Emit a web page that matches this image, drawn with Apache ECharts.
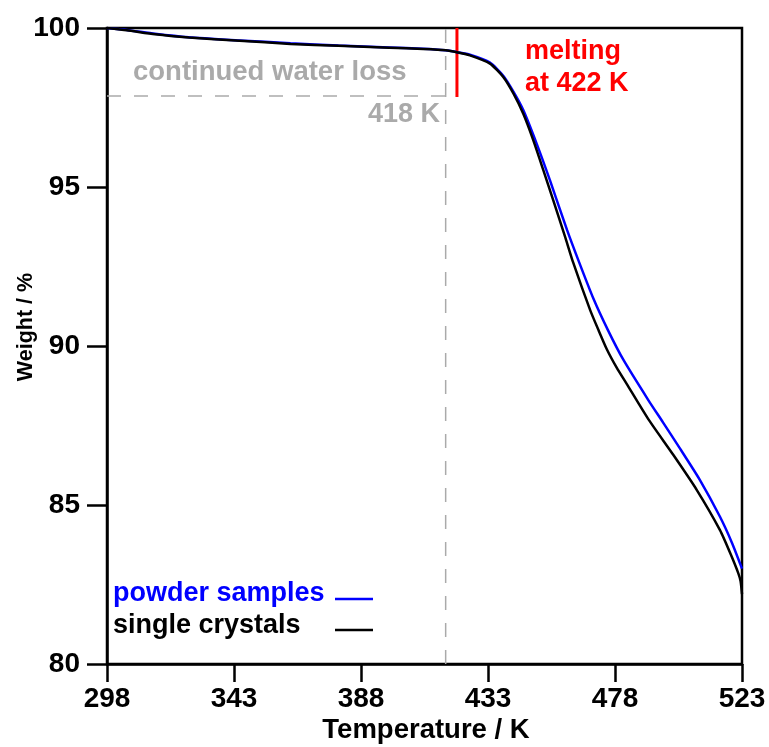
<!DOCTYPE html>
<html>
<head>
<meta charset="utf-8">
<script src="https://cdn.jsdelivr.net/npm/echarts@6/dist/echarts.min.js"></script>
<style>
  html, body { margin: 0; padding: 0; background: #fff; }
  #main { width: 769px; height: 747px; }
</style>
</head>
<body>
<div id="main"></div>
<script>
// powder samples: temperature (K) and weight (%)
const powderTemps = [298, 305, 315, 327, 345, 363, 380, 398, 410, 418, 422, 426.6, 433.7, 438.4, 442, 445.5, 450.3, 455, 461, 465, 470.3, 475.5, 481, 489.8, 495, 501, 508, 515.2, 519.5, 523];
const powderWeight = [100, 99.94, 99.82, 99.71, 99.61, 99.52, 99.45, 99.39, 99.35, 99.3, 99.24, 99.16, 98.91, 98.5, 98.0, 97.42, 96.35, 95.2, 93.65, 92.7, 91.5, 90.5, 89.56, 88.3, 87.6, 86.78, 85.8, 84.63, 83.8, 83.0];
// single crystals
const crystalTemps = [298, 305, 315, 327, 345, 363, 380, 398, 410, 418, 422, 426.6, 433.7, 438.4, 442, 445.5, 449, 452.6, 456.1, 460.3, 463.2, 469.2, 472.2, 475.1, 478.6, 482.2, 489.8, 498.7, 507, 515.2, 519, 521.7, 522.5, 523];
const crystalWeight = [100, 99.93, 99.8, 99.7, 99.6, 99.5, 99.44, 99.38, 99.34, 99.3, 99.24, 99.14, 98.88, 98.46, 97.94, 97.3, 96.48, 95.53, 94.59, 93.44, 92.62, 91.13, 90.49, 89.9, 89.32, 88.8, 87.7, 86.57, 85.47, 84.21, 83.45, 82.85, 82.6, 82.2];
const xTicks = [298, 343, 388, 433, 478, 523];
// guide lines
const waterLossT = 418;
const waterLossW = 97.86;
const meltT = 422;
const meltW = 97.83;

const font = 'Liberation Sans, Arial, sans-serif';

const chart = echarts.init(document.getElementById('main'));

function zip(xs, ys) {
  return xs.map((x, i) => [x, ys[i]]);
}

const option = {
  animation: false,
  grid: {
    left: 107, right: 27, top: 28, bottom: 83,
    show: true, borderColor: '#000', borderWidth: 2.5
  },
  xAxis: {
    type: 'value',
    min: 298, max: 523,
    axisLine: { lineStyle: { color: '#000', width: 2.5 } },
    axisTick: { length: 18, lineStyle: { color: '#000', width: 2.5 }, customValues: xTicks },
    axisLabel: {
      customValues: xTicks, margin: 21,
      color: '#000', fontWeight: 'bold', fontSize: 28, fontFamily: font
    },
    splitLine: { show: false }
  },
  yAxis: {
    type: 'value',
    min: 80, max: 100, interval: 5,
    axisLine: { lineStyle: { color: '#000', width: 2.5 } },
    axisTick: { length: 20, lineStyle: { color: '#000', width: 2.5 } },
    axisLabel: {
      margin: 27,
      color: '#000', fontWeight: 'bold', fontSize: 28, fontFamily: font
    },
    splitLine: { show: false }
  },
  series: [
    {
      type: 'line', silent: true, symbol: 'none',
      data: [[waterLossT, 80], [waterLossT, 100]],
      lineStyle: { color: '#aaaaaa', width: 1.5, type: [14, 13] }
    },
    {
      type: 'line', silent: true, symbol: 'none',
      data: [[298, waterLossW], [waterLossT, waterLossW]],
      lineStyle: { color: '#aaaaaa', width: 1.5, type: [14, 13] }
    },
    {
      type: 'line', silent: true, symbol: 'none',
      data: [[meltT, 100], [meltT, meltW]],
      lineStyle: { color: '#ff0000', width: 3 }
    },
    {
      name: 'powder samples',
      type: 'line', symbol: 'none', smooth: 0.2,
      data: zip(powderTemps, powderWeight),
      lineStyle: { color: '#0000ff', width: 2.5 }
    },
    {
      name: 'single crystals',
      type: 'line', symbol: 'none', smooth: 0.2,
      data: zip(crystalTemps, crystalWeight),
      lineStyle: { color: '#000000', width: 2.5 }
    }
  ],
  graphic: [
    { type: 'text', x: 26, y: 327, rotation: Math.PI / 2,
      style: { text: 'Weight / %', font: 'bold 21.5px ' + font, fill: '#000', align: 'center', verticalAlign: 'middle' } },
    { type: 'text', x: 426, y: 730,
      style: { text: 'Temperature / K', font: 'bold 27.5px ' + font, fill: '#000', align: 'center', verticalAlign: 'middle' } },
    { type: 'text', x: 133, y: 72,
      style: { text: 'continued water loss', font: 'bold 27.5px ' + font, fill: '#aaaaaa', align: 'left', verticalAlign: 'middle' } },
    { type: 'text', x: 440, y: 115,
      style: { text: '418 K', font: 'bold 27px ' + font, fill: '#aaaaaa', align: 'right', verticalAlign: 'middle' } },
    { type: 'text', x: 525, y: 52,
      style: { text: 'melting', font: 'bold 27px ' + font, fill: '#ff0000', align: 'left', verticalAlign: 'middle' } },
    { type: 'text', x: 525, y: 84,
      style: { text: 'at 422 K', font: 'bold 27px ' + font, fill: '#ff0000', align: 'left', verticalAlign: 'middle' } },
    { type: 'text', x: 113, y: 594,
      style: { text: 'powder samples', font: 'bold 27px ' + font, fill: '#0000ff', align: 'left', verticalAlign: 'middle' } },
    { type: 'line', shape: { x1: 335, y1: 599, x2: 373, y2: 599 }, style: { stroke: '#0000ff', lineWidth: 2.5 } },
    { type: 'text', x: 113, y: 626,
      style: { text: 'single crystals', font: 'bold 27px ' + font, fill: '#000', align: 'left', verticalAlign: 'middle' } },
    { type: 'line', shape: { x1: 335, y1: 630, x2: 373, y2: 630 }, style: { stroke: '#000', lineWidth: 2.5 } }
  ]
};

chart.setOption(option);
</script>
</body>
</html>
